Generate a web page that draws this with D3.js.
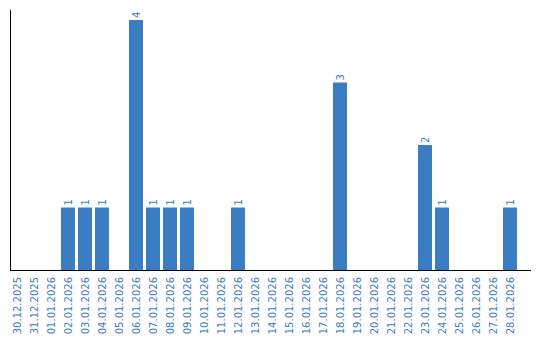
<!DOCTYPE html>
<style>
  body { margin: 0; }
  svg { font: 10px "DejaVu Sans", sans-serif; }
</style>
<svg id="svg" width="540" height="340"></svg>
<script src="https://d3js.org/d3.v7.min.js"></script>
<script>
// Data
var dates = ["30.12.2025", "31.12.2025", "01.01.2026", "02.01.2026", "03.01.2026",
             "04.01.2026", "05.01.2026", "06.01.2026", "07.01.2026", "08.01.2026",
             "09.01.2026", "10.01.2026", "11.01.2026", "12.01.2026", "13.01.2026",
             "14.01.2026", "15.01.2026", "16.01.2026", "17.01.2026", "18.01.2026",
             "19.01.2026", "20.01.2026", "21.01.2026", "22.01.2026", "23.01.2026",
             "24.01.2026", "25.01.2026", "26.01.2026", "27.01.2026", "28.01.2026"];
var counts = [0, 0, 0, 1, 1, 1, 0, 4, 1, 1, 1, 0, 0, 1, 0,
              0, 0, 0, 0, 3, 0, 0, 0, 0, 2, 1, 0, 0, 0, 1];

var blue = "#3b7dc2";

var svg = d3.select("svg");

// Scales
var x = d3.scaleBand()
    .domain(dates)
    .range([10, 517])
    .paddingInner(3 / 17)
    .paddingOuter(0);

var y = d3.scaleLinear()
    .domain([0, 4])
    .range([270, 20]);

// Bars
var bars = svg.append("g")
  .selectAll("rect")
  .data(dates)
  .enter().filter(function(d, i) { return counts[i] > 0; })
  .append("rect")
    .attr("x", function(d) { return x(d); })
    .attr("y", function(d) { return y(counts[dates.indexOf(d)]); })
    .attr("width", x.bandwidth())
    .attr("height", function(d) { return 270 - y(counts[dates.indexOf(d)]); })
    .attr("fill", blue);

// Value labels
svg.append("g")
  .selectAll("text")
  .data(dates.filter(function(d, i) { return counts[i] > 0; }))
  .enter().append("text")
    .attr("transform", function(d) {
      var cx = x(d) + x.bandwidth() / 2;
      return "translate(" + cx + "," + (y(counts[dates.indexOf(d)]) - 2) + ") rotate(-90)";
    })
    .attr("dy", "0.35em")
    .attr("fill", blue)
    .text(function(d) { return counts[dates.indexOf(d)]; });

// Axes lines
svg.append("line")
    .attr("x1", 10.5).attr("x2", 10.5)
    .attr("y1", 10).attr("y2", 270)
    .attr("stroke", "#000");
svg.append("line")
    .attr("x1", 10).attr("x2", 531)
    .attr("y1", 270.5).attr("y2", 270.5)
    .attr("stroke", "#000");

// Category labels
svg.append("g")
  .selectAll("text")
  .data(dates)
  .enter().append("text")
    .attr("transform", function(d) {
      return "translate(" + (x(d) + x.bandwidth() / 2) + ",277) rotate(-90)";
    })
    .attr("text-anchor", "end")
    .attr("dy", "0.35em")
    .attr("fill", blue)
    .text(function(d) { return d; });
</script>
